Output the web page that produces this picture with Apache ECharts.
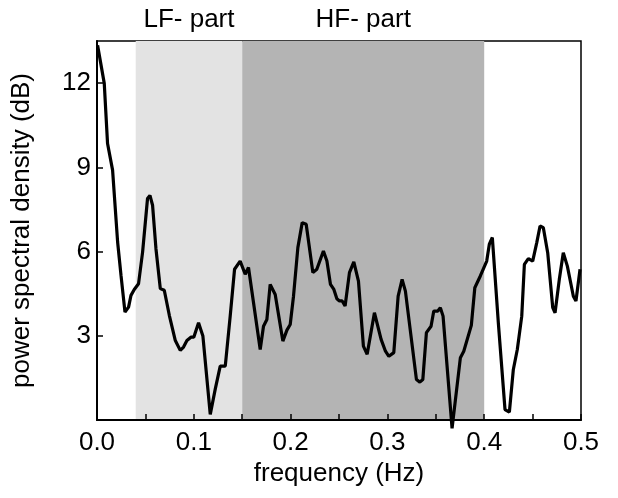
<!DOCTYPE html>
<html>
<head>
<meta charset="utf-8">
<script src="https://cdn.jsdelivr.net/npm/echarts@6/dist/echarts.min.js"></script>
<style>
  html, body { margin: 0; padding: 0; background: #fff; }
  #main { width: 618px; height: 498px; }
</style>
</head>
<body>
<div id="main"></div>
<script>
// frequency (Hz) / power spectral density (dB)
var freq = [0.0006, 0.0075, 0.0109, 0.0161, 0.0213, 0.0248, 0.0289, 0.0326, 0.0351, 0.0385,
	0.0429, 0.0471, 0.0522, 0.0547, 0.0574, 0.0609, 0.0654, 0.0695, 0.0747, 0.0809,
	0.0860, 0.0894, 0.0929, 0.0970, 0.1000, 0.1049, 0.1094, 0.1170, 0.1221, 0.1273,
	0.1325, 0.1376, 0.1421, 0.1479, 0.1531, 0.1565, 0.1617, 0.1686, 0.1720, 0.1755,
	0.1789, 0.1841, 0.1920, 0.1962, 0.1996, 0.2030, 0.2075, 0.2120, 0.2161, 0.2230,
	0.2271, 0.2339, 0.2375, 0.2412, 0.2447, 0.2478, 0.2505, 0.2533, 0.2563, 0.2608,
	0.2653, 0.2701, 0.2752, 0.2791, 0.2866, 0.2935, 0.2980, 0.3015, 0.3066, 0.3111,
	0.3152, 0.3186, 0.3300, 0.3335, 0.3366, 0.3403, 0.3451, 0.3479, 0.3521, 0.3547,
	0.3575, 0.3668, 0.3754, 0.3789, 0.3867, 0.3903, 0.3960, 0.4026, 0.4053, 0.4084,
	0.4146, 0.4215, 0.4260, 0.4301, 0.4342, 0.4388, 0.4415, 0.4456, 0.4501, 0.4543,
	0.4577, 0.4611, 0.4656, 0.4708, 0.4732, 0.4776, 0.4817, 0.4859, 0.4921, 0.4948,
	0.4990];
var psd = [13.35, 11.99, 9.85, 8.9, 6.34, 5.15, 3.84, 4.02, 4.44, 4.65,
	4.85, 5.98, 7.89, 8.0, 7.65, 6.1, 4.68, 4.62, 3.73, 2.83,
	2.48, 2.6, 2.83, 2.95, 2.95, 3.46, 2.99, 0.2, 1.09, 1.92,
	1.92, 3.7, 5.37, 5.66, 5.19, 5.43, 4.18, 2.51, 3.34, 3.58,
	4.83, 4.47, 2.81, 3.2, 3.4, 4.41, 6.14, 7.03, 6.97, 5.25,
	5.37, 6.02, 5.66, 4.83, 4.65, 4.32, 4.24, 4.24, 4.06, 5.25,
	5.63, 4.95, 2.63, 2.34, 3.82, 2.87, 2.45, 2.27, 2.4, 4.41,
	5.01, 4.59, 1.44, 1.35, 1.44, 3.11, 3.34, 3.88, 3.88, 4.0,
	3.7, -0.3, 2.22, 2.45, 3.37, 4.71, 5.13, 5.66, 6.26, 6.5,
	3.46, 0.37, 0.28, 1.8, 2.51, 3.7, 5.54, 5.75, 5.66, 6.32,
	6.91, 6.85, 5.96, 4.0, 3.82, 5.01, 5.96, 5.48, 4.41, 4.24,
	5.37];

// shaded frequency bands
var bandNames = ['LF- part', 'HF- part'];
var bandStart = [0.04, 0.15];
var bandEnd = [0.15, 0.40];
var bandColors = ['#e3e3e3', '#b4b4b4'];

var fontName = 'Liberation Sans';

var lineData = freq.map(function (f, i) { return [f, psd[i]]; });
var bands = bandNames.map(function (name, i) {
	return [{
		name: name,
		xAxis: bandStart[i],
		itemStyle: { color: bandColors[i] }
	}, {
		xAxis: bandEnd[i]
	}];
});

var myChart = echarts.init(document.getElementById('main'));

var option = {
	backgroundColor: '#fff',
	animation: false,
	textStyle: { fontFamily: fontName },
	grid: {
		left: 97,
		right: 37,
		top: 41,
		bottom: 78,
		show: true,
		borderColor: '#000',
		borderWidth: 1.5
	},
	xAxis: {
		type: 'value',
		z: 10, // ticks sit on top of the shaded bands
		min: 0,
		max: 0.5,
		interval: 0.1,
		name: 'frequency (Hz)',
		nameLocation: 'middle',
		nameGap: 35,
		nameTextStyle: { fontSize: 26, color: '#000', fontFamily: fontName },
		axisLine: { lineStyle: { color: '#000', width: 2 } },
		axisTick: { inside: true, length: 6, lineStyle: { color: '#000', width: 1.5 } },
		minorTick: { show: true, splitNumber: 2, length: 6, lineStyle: { color: '#000', width: 1.5 } },
		splitLine: { show: false },
		axisLabel: {
			fontSize: 26,
			color: '#000',
			margin: 10,
			formatter: function (v) { return v.toFixed(1); }
		}
	},
	yAxis: {
		type: 'value',
		z: 10,
		min: 0,
		max: 13.5,
		interval: 3,
		name: 'power spectral density (dB)',
		nameLocation: 'middle',
		nameGap: 62,
		nameTextStyle: { fontSize: 26, color: '#000', fontFamily: fontName },
		axisLine: { show: true, lineStyle: { color: '#000', width: 2 } },
		axisTick: { inside: true, length: 6, lineStyle: { color: '#000', width: 1.5 } },
		splitLine: { show: false },
		axisLabel: {
			fontSize: 26,
			color: '#000',
			margin: 6,
			showMaxLabel: false,
			formatter: function (v) { return v === 0 ? '' : String(v); }
		}
	},
	series: [{
		type: 'line',
		data: lineData,
		showSymbol: false,
		clip: false,
		lineStyle: { color: '#000', width: 3.2 },
		markArea: {
			silent: true,
			label: {
				show: true,
				position: 'top',
				distance: 8,
				fontSize: 26,
				color: '#000',
				fontFamily: fontName
			},
			data: bands
		}
	}]
};

myChart.setOption(option);
</script>
</body>
</html>
